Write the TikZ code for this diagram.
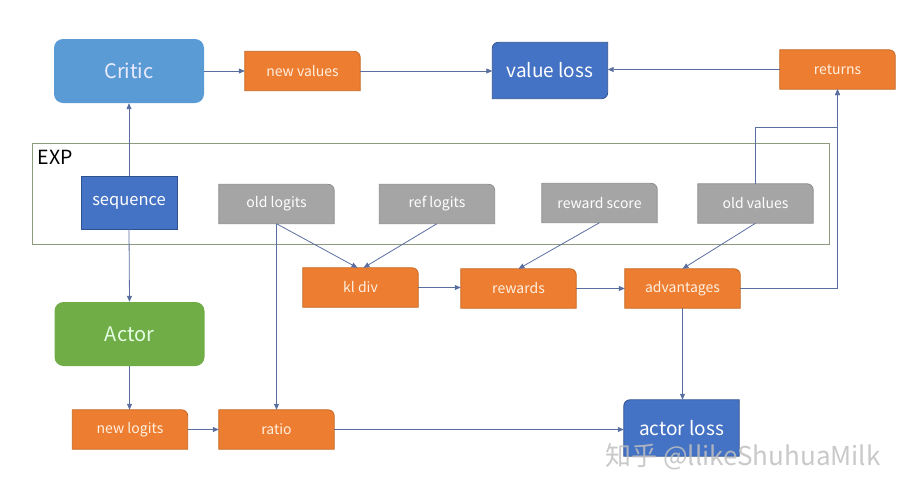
\documentclass[tikz,border=0pt]{standalone}
\usepackage{fontspec}
\setmainfont{Noto Sans CJK SC}
\usetikzlibrary{arrows.meta,backgrounds}

\definecolor{orng}{HTML}{ED7D31}
\definecolor{orngline}{HTML}{C4651F}
\definecolor{gry}{HTML}{A5A5A5}
\definecolor{gryline}{HTML}{8C8C8C}
\definecolor{blu}{HTML}{4472C4}
\definecolor{bluline}{HTML}{2F528F}
\definecolor{lblu}{HTML}{5B9BD5}
\definecolor{grn}{HTML}{70AD47}
\definecolor{wire}{HTML}{5A6FA0}
\definecolor{expline}{HTML}{8E9A7E}

\begin{document}
\begin{tikzpicture}[
  x=1pt, y=-1pt,
  box/.style={
    minimum width=115pt, minimum height=39pt,
    inner sep=0pt, text centered, font=\fontsize{14}{16}\selectfont,
  },
  OB/.style={box, text=orange!12},
  GB/.style={box, text=white},
  LB/.style={box, minimum height=56pt, text=white, font=\fontsize{19}{22}\selectfont},
  RB/.style={minimum width=150pt, minimum height=64pt, inner sep=0pt,
    rounded corners=9pt, font=\fontsize{20}{24}\selectfont},
  obg/.style={fill=orng, draw=orngline, line width=0.8pt},
  gbg/.style={fill=gry, draw=gryline, line width=0.8pt},
  bbg/.style={fill=blu, draw=bluline, line width=0.8pt},
  arr/.style={draw=wire, line width=0.8pt,
    -{Triangle[length=6pt, width=5pt]}},
]

\useasboundingbox (0,0) rectangle (908,493);
\def\rc{6pt}

% ── models ───────────────────────────────────────────────
\node[RB, fill=lblu, text=blue!8] (critic) at (129,71) {Critic};
\node[RB, fill=grn, text=green!10] (actor) at (129.5,334) {Actor};

% ── experience buffer ────────────────────────────────────
\node[draw=expline, line width=0.8pt, minimum width=797pt,
  minimum height=101pt, inner sep=0pt] (exp) at (430.5,193.5) {};
\node[font=\fontsize{19.5}{22}\selectfont, anchor=north west, inner sep=0pt]
  (explbl) at ([xshift=6pt, yshift=-7pt] exp.north west) {EXP};

\node[box, minimum width=96pt, minimum height=53pt, fill=blu, draw=bluline,
  line width=0.8pt, text=white, font=\fontsize{16.5}{19}\selectfont]
  (seq) at (129,202.5) {sequence};
\node[GB] (oldl) at (276.5,204)   {old logits};
\node[GB] (refl) at (437,204)     {ref logits};
\node[GB] (rsc)  at (599.5,203)   {reward score};
\node[GB] (oldv) at (755.5,203.5) {old values};

% ── computed terms ───────────────────────────────────────
\node[OB] (newv)  at (302.5,71)   {new values};
\node[OB] (ret)   at (837.5,69.5) {returns};
\node[OB] (kl)    at (360.5,287.5) {kl div};
\node[OB] (rew)   at (518.5,288.5) {rewards};
\node[OB] (adv)   at (682.5,288.5) {advantages};
\node[OB] (newl)  at (130,429.5)  {new logits};
\node[OB] (ratio) at (276.5,429.5) {ratio};

% ── losses ───────────────────────────────────────────────
\node[LB] (vloss) at (550,70.5) {value loss};
\node[LB] (aloss) at (681.5,428)  {actor loss};

% ── box bodies, one rounded corner (top right) ───────────
\begin{scope}[on background layer]
  \foreach \n/\s in {newv/obg, ret/obg, kl/obg, rew/obg, adv/obg,
                     newl/obg, ratio/obg, oldl/gbg, refl/gbg, rsc/gbg, oldv/gbg}
    \filldraw[\s] (\n.south west) -- (\n.north west)
      -- ([xshift=-\rc] \n.north east) arc[start angle=90, end angle=0, radius=\rc]
      -- (\n.south east) -- cycle;
  % value loss: top left and bottom right rounded
  \filldraw[bbg] ([yshift=\rc] vloss.south west) -- ([yshift=-\rc] vloss.north west)
    arc[start angle=180, end angle=90, radius=\rc] -- (vloss.north east)
    -- ([yshift=\rc] vloss.south east)
    arc[start angle=0, end angle=-90, radius=\rc] -- (vloss.south west) -- cycle;
  % actor loss: top left rounded
  \filldraw[bbg] (aloss.south west) -- ([yshift=-\rc] aloss.north west)
    arc[start angle=180, end angle=90, radius=\rc] -- (aloss.north east)
    -- (aloss.south east) -- cycle;
\end{scope}

% ── connectors ───────────────────────────────────────────
\draw[arr] (critic.east) -- (newv.west);
\draw[arr] (newv.east) -- (vloss.west |- newv.east);
\draw[arr] (ret.west) -- (vloss.east |- ret.west);
\draw[arr] (seq.north) -- (critic.south);
\draw[arr] (seq.south) -- (actor.north);
\draw[arr] (actor.south) -- (newl.north -| actor.south);
\draw[arr] (newl.east) -- (ratio.west);
\draw[arr] (oldl.south) -- (ratio.north);
\draw[arr] (oldl.south) -- ([xshift=-3pt] kl.north);
\draw[arr] (refl.south) -- ([xshift=3pt] kl.north);
\draw[arr] (kl.east) -- (rew.west |- kl.east);
\draw[arr] (rsc.south) -- (rew.north);
\draw[arr] (rew.east) -- (adv.west);
\draw[arr] (oldv.south) -- (adv.north);
\draw[arr] (oldv.north) |- ([yshift=-38pt] ret.south) -- (ret.south);
\draw[arr] (adv.east) -| (ret.south);
\draw[arr] (adv.south) -- (aloss.north -| adv.south);
\draw[arr] (ratio.east) -- (aloss.west |- ratio.east);

% ── watermark ────────────────────────────────────────────
\node[text=gray!50, opacity=0.85, font=\fontsize{26}{29}\selectfont,
  inner sep=0pt] (mark) at (743,457) {知乎 @llikeShuhuaMilk};

\end{tikzpicture}
\end{document}
